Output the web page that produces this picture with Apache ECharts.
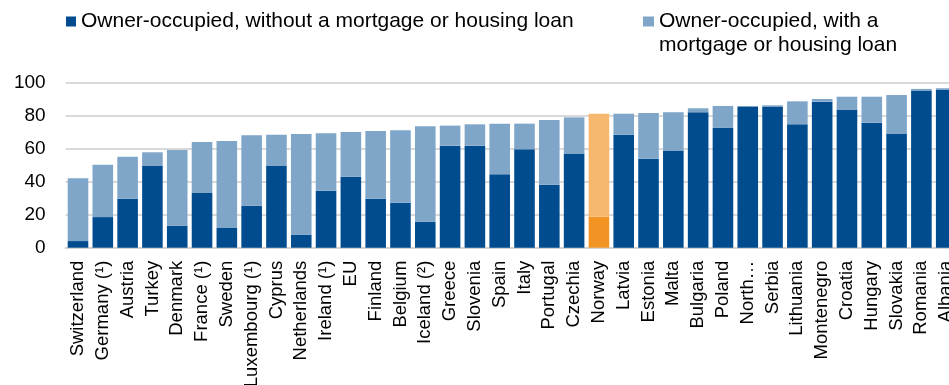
<!DOCTYPE html>
<html>
<head>
<meta charset="utf-8">
<script src="https://cdn.jsdelivr.net/npm/echarts@6/dist/echarts.min.js"></script>
<style>html,body{margin:0;padding:0;background:#fff;}#c{width:949px;height:385px;}</style>
</head>
<body>
<div id="c"></div>
<script>
var categories = ['Switzerland','Germany (¹)','Austria','Turkey','Denmark','France (¹)','Sweden','Luxembourg (¹)','Cyprus','Netherlands','Ireland (¹)','EU','Finland','Belgium','Iceland (²)','Greece','Slovenia','Spain','Italy','Portugal','Czechia','Norway','Latvia','Estonia','Malta','Bulgaria','Poland','North…','Serbia','Lithuania','Montenegro','Croatia','Hungary','Slovakia','Romania','Albania'];
var withoutMortgage = [4,18.5,29.6,49.4,13.3,33,11.9,25.4,49.4,7.9,34.5,42.9,29.6,27.2,15.7,61.7,61.7,44.4,59.5,38.1,56.9,18.75,68.3,53.8,58.7,81.9,72.4,85.3,85.3,74.6,88.3,83.5,75.6,69,95,95.6];
var withMortgage = [38,31.7,25.4,8.3,45.7,30.9,52.6,42.6,18.9,60.9,34.7,27.1,41,43.8,57.7,12.1,12.9,30.6,15.5,39.1,21.9,62.25,12.7,27.7,23.2,2.4,13.3,0.4,0.8,13.9,1.6,7.8,15.7,23.3,1,0.8];
var yTicks = [0,20,40,60,80,100];
var highlight = 'Norway';

var DARK = '#004c8f', LIGHT = '#7fa6c9', ODARK = '#f29423', OLIGHT = '#f5b86e';
function mk(arr, hi) {
  return arr.map(function (v, i) {
    return categories[i] === highlight ? {value: v, itemStyle: {color: hi}} : v;
  });
}
var font = 'Liberation Sans, Arial, sans-serif';
var chart = echarts.init(document.getElementById('c'));
chart.setOption({
  animation: false,
  textStyle: {fontFamily: font, color: '#000'},
  legend: [{
    data: ['Owner-occupied, without a mortgage or housing loan'],
    left: 66, top: 11, padding: 0, itemWidth: 10, itemHeight: 10, itemGap: 5,
    icon: 'rect', selectedMode: false,
    textStyle: {fontFamily: font, fontSize: 21, color: '#000'}
  }, {
    data: ['Owner-occupied, with a\nmortgage or housing loan'],
    formatter: function (name) { return '\n' + name; },
    left: 643, top: -14.5, padding: 0, itemWidth: 11, itemHeight: 10, itemGap: 5,
    icon: 'rect', selectedMode: false,
    textStyle: {fontFamily: font, fontSize: 21, color: '#000', lineHeight: 24}
  }],
  grid: {left: 65.6, right: -9.6, top: 82.3, bottom: 137.3, containLabel: false, outerBoundsMode: 'none'},
  xAxis: {
    type: 'category', data: categories,
    axisLine: {lineStyle: {color: '#d4d4d4', width: 2}},
    axisTick: {show: false},
    axisLabel: {rotate: 90, interval: 0, margin: 13, fontSize: 18.5, color: '#000', fontFamily: font}
  },
  yAxis: {
    type: 'value', min: yTicks[0], max: yTicks[yTicks.length-1], interval: 20,
    axisLine: {show: false}, axisTick: {show: false},
    axisLabel: {margin: 20, fontSize: 19, color: '#000', fontFamily: font},
    splitLine: {lineStyle: {color: '#d9d9d9', width: 2}}
  },
  series: [{
    name: 'Owner-occupied, without a mortgage or housing loan',
    type: 'bar', stack: 'own', barCategoryGap: '17%',
    itemStyle: {color: DARK},
    data: mk(withoutMortgage, ODARK)
  }, {
    name: 'Owner-occupied, with a\nmortgage or housing loan',
    type: 'bar', stack: 'own', barCategoryGap: '17%',
    itemStyle: {color: LIGHT},
    data: mk(withMortgage, OLIGHT)
  }]
});
</script>
</body>
</html>
